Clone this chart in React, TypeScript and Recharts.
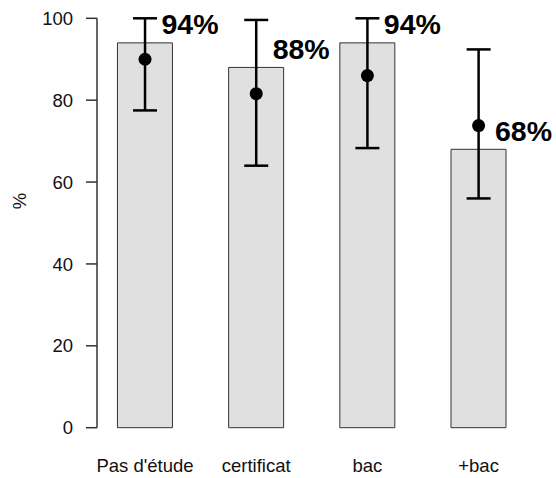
import { Bar, ComposedChart, ErrorBar, LabelList, Scatter, XAxis, YAxis } from 'recharts'

const categories = ["Pas d'étude", 'certificat', 'bac', '+bac']
const positions = [1, 2, 3, 4]
const shares = [94, 88, 94, 68]
const means = [90, 81.6, 86, 73.8]
const lower = [77.5, 64, 68.3, 56]
const upper = [100, 99.6, 100, 92.4]
const yTicks = [0, 20, 40, 60, 80, 100]

const data = categories.map((name, i) => ({
  name,
  pos: positions[i],
  share: shares[i],
  mean: means[i],
  err: [means[i] - lower[i], upper[i] - means[i]]
}))

const FONT = '"Liberation Sans", Arial, Helvetica, sans-serif'

const COLORS = {
  bar: '#e0e0e0',
  barStroke: '#333333',
  axis: '#333333',
  text: '#111111',
  mark: '#000000'
}

const ShareLabel = (props: any) => {
  const { x, y, width, value } = props
  return (
    <text
      x={x + width / 2 + 16.5}
      y={y - 18.5}
      dominantBaseline="central"
      fontSize={28.5}
      fontWeight="bold"
      fontFamily={FONT}
      fill={COLORS.mark}
    >
      {value}%
    </text>
  )
}

const Dot = (props: any) => <circle cx={props.cx} cy={props.cy} r={6.5} fill={COLORS.mark} />

const AxisTitle = () => (
  <text
    x={19}
    y={201}
    transform="rotate(-90 19 201)"
    textAnchor="middle"
    dominantBaseline="central"
    fontSize={18.5}
    fontFamily={FONT}
    fill={COLORS.text}
  >
    %
  </text>
)

export default function App() {
  return (
    <div style={{ position: 'absolute', left: 0, top: 0, fontFamily: FONT }}>
      <ComposedChart
        width={556}
        height={478}
        data={data}
        margin={{ top: 18.3, right: 21.8, bottom: 0.3, left: 0 }}
      >
        <XAxis
          type="number"
          dataKey="pos"
          domain={[0.568, 4.5]}
          allowDataOverflow
          ticks={positions}
          interval={0}
          tickFormatter={(v) => categories[v - 1]}
          axisLine={false}
          tickLine={false}
          tickSize={0}
          tickMargin={31}
          height={50}
          tick={{ fontSize: 18.5, fill: COLORS.text, fontFamily: FONT }}
        />
        <YAxis
          domain={[0, 100]}
          ticks={yTicks}
          interval={0}
          width={97}
          tickSize={11}
          tickMargin={13}
          axisLine={{ stroke: COLORS.axis, strokeWidth: 1.5 }}
          tickLine={{ stroke: COLORS.axis, strokeWidth: 1.5 }}
          tick={{ fontSize: 18.5, fill: COLORS.text, fontFamily: FONT }}
          label={{ content: AxisTitle }}
        />
        <Bar
          dataKey="share"
          barSize={55}
          fill={COLORS.bar}
          stroke={COLORS.barStroke}
          strokeWidth={1}
          isAnimationActive={false}
        >
          <LabelList dataKey="share" content={ShareLabel} />
        </Bar>
        <Scatter dataKey="mean" shape={Dot} isAnimationActive={false}>
          <ErrorBar
            dataKey="err"
            direction="y"
            width={12}
            stroke={COLORS.mark}
            strokeWidth={2.5}
            isAnimationActive={false}
          />
        </Scatter>
      </ComposedChart>
    </div>
  )
}
